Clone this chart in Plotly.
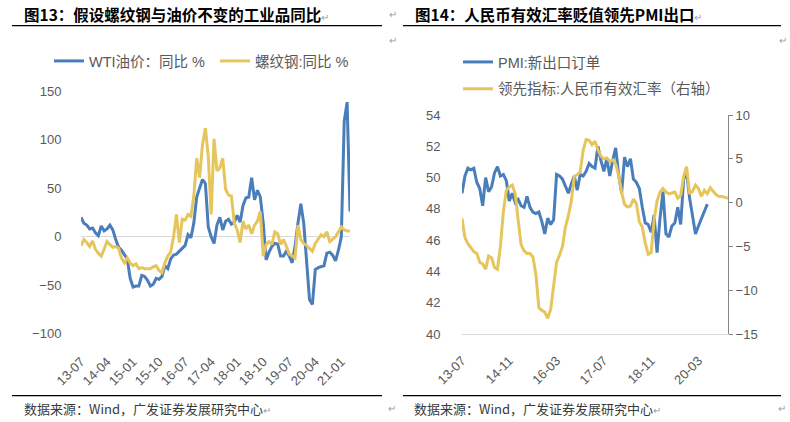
import pandas as pd
import plotly.graph_objects as go

W, H = 790, 422

# ---------------- data: chart 13 (monthly, 2013-07 .. 2021-04) ----------------
months13 = pd.date_range("2013-07-01", "2021-04-01", freq="MS").strftime("%y-%m").tolist()
wti_yoy = [20, 14, 12, 8, 9, 4, 1, 11, 6, 8, 12, 7, -3, -11, -14, -18, -23, -43, -52, -51,
           -51, -40, -41, -45, -51, -49, -43, -44, -41, -30, -33, -23, -19, -18, -15, -13, -9, 2, -1, 14,
           41, 50, 59, 55, 10, 0, -7, 12, 20, 7, 16, 18, 13, 15, 22, 15, 32, 40, 41, 61,
           38, 48, 41, 14, -24, -16, -10, -7, -7.5, -20, -20, -15, -20, -27, -10, 14, 34, 14, -27, -65,
           -70, -34, -32, -31, -30, -17, -16, -19, -25, -14, 0, 119, 139, 26]
rebar_yoy = [-9.5, -3, -6, -10, -4.5, -13, -17, -20, -13, -5, -8, -11, -10, -12, -22, -27, -22, -27, -30, -28,
             -33, -32, -33, -33, -33, -31, -30, -35, -37, -27, -20, -16, 0, 23, -6, 18, 17, 23, 21, 42,
             81, 61, 95, 112, 83, 23, 101, 68, 71, 81, 49, 43, 42, 14, 7, -6, 16, 8, 12, 3,
             12, 16, 26, -20, -8, -5, -8, 5, 3, -8, -3, -10, -18, -20, -22, 12, -3, -7, -9, -12,
             -15, -7, -3, 2, 0, 5, -5, -2, 0, 5, 10, 7, 6, 6]
ticks13 = ["13-07", "14-04", "15-01", "15-10", "16-07", "17-04", "18-01", "18-10", "19-07", "20-04", "21-01"]
yticks13 = [-100, -50, 0, 50, 100, 150]

# ---------------- data: chart 14 (monthly, 2013-07 .. 2021-01) ----------------
months14 = pd.date_range("2013-07-01", "2021-01-01", freq="MS").strftime("%y-%m").tolist()
pmi_export = [49.0, 50.1, 50.6, 50.5, 50.6, 49.7, 49.3, 48.2, 50.0, 49.1, 49.4, 50.3, 50.7, 50.1, 50.2, 49.8,
              48.5, 49.0, 48.4, 48.6, 48.2, 48.1, 48.8, 48.1, 47.8, 47.7, 47.8, 47.2, 46.4, 47.4, 47.0, 47.3,
              50.2, 50.1, 49.9, 49.5, 49.0, 49.6, 50.1, 49.2, 50.2, 50.1, 50.4, 50.9, 50.7, 50.6, 52.0, 51.1,
              50.4, 51.2, 50.1, 51.1, 51.9, 50.2, 49.0, 51.3, 50.7, 51.2, 49.9, 49.7, 49.3, 48.1, 47.1, 47.0,
              46.5, 47.6, 45.2, 47.4, 49.1, 46.4, 46.2, 46.9, 47.1, 48.1, 47.0, 49.9, 50.3, 48.7, 47.5, 46.4,
              46.9, 47.4, 47.9, 48.3]
reer_lead = [-1.8, -4.0, -4.7, -5.2, -5.6, -5.8, -6.8, -7.0, -7.6, -6.1, -6.3, -7.4, -7.6, -5.0, -1.0, 1.4,
             1.8, 2.0, 1.0, -2.0, -4.8, -5.5, -5.8, -5.8, -6.2, -8.2, -12.0, -12.3, -12.5, -13.2, -12.2, -9.5,
             -6.8, -6.0, -5.0, -2.8, -1.5, 0.2, 3.0, 3.2, 3.5, 6.0, 7.2, 7.1, 6.6, 7.0, 6.0, 5.3,
             5.0, 5.1, 4.7, 4.9, 4.4, 3.1, 1.2, -0.2, -0.5, -0.4, 0.4, -0.1, -2.2, -2.8, -4.6, -5.9,
             -5.7, -2.0, 0.2, 1.2, 1.6, 1.2, 1.0, 1.1, 1.2, 0.5, 0.8, 3.0, 4.1, 1.0, 1.3, 2.0,
             1.6, 0.7, 1.4, 1.0, 1.7, 1.3, 0.9, 0.7, 0.7, 0.6, 0.5]
ticks14 = ["13-07", "14-11", "16-03", "17-07", "18-11", "20-03"]
yticks14_left = [40, 42, 44, 46, 48, 50, 52, 54]
yticks14_right = [-15, -10, -5, 0, 5, 10]

BLUE = "#4a7ebb"
GOLD = "#e6c65c"
TICK_FONT = dict(family="Liberation Sans, Arial, sans-serif", size=13, color="#595959")
LEG_FONT = dict(family="Liberation Sans, Noto Sans CJK SC, sans-serif", size=14.5, color="#595959")


def px(x):  # screen pixel -> paper fraction
    return x / W


def py(y):
    return 1 - y / H


fig = go.Figure()
fig.add_trace(go.Scatter(x=months13, y=wti_yoy, name="WTI油价：同比 %", mode="lines",
                         line=dict(color=BLUE, width=3), xaxis="x", yaxis="y", legend="legend"))
fig.add_trace(go.Scatter(x=months13, y=rebar_yoy, name="螺纹钢:同比 %", mode="lines",
                         line=dict(color=GOLD, width=3), xaxis="x", yaxis="y", legend="legend"))
fig.add_trace(go.Scatter(x=months14[:len(pmi_export)], y=pmi_export, name="PMI:新出口订单", mode="lines",
                         line=dict(color=BLUE, width=3), xaxis="x2", yaxis="y2", legend="legend2",
                         legendgroup="a"))
fig.add_trace(go.Scatter(x=months14, y=reer_lead, name="领先指标:人民币有效汇率（右轴）", mode="lines",
                         line=dict(color=GOLD, width=3), xaxis="x2", yaxis="y3", legend="legend2",
                         legendgroup="b"))

shapes = []
for (x0, x1) in [(12, 382), (403, 781)]:
    for yy in [25.7, 395.7]:
        shapes.append(dict(type="line", xref="paper", yref="paper", x0=px(x0), x1=px(x1),
                           y0=py(yy), y1=py(yy), line=dict(color="#000000", width=1.3)))

RET = "<span style='color:#a0a0a0;font-size:10px'>↵</span>"
TITLE_FONT = dict(family="Noto Sans CJK SC, sans-serif", size=15.5, color="#000000")
SRC_FONT = dict(family="Noto Sans CJK SC, Liberation Sans, sans-serif", size=13, color="#3a3a3a")
annotations = [
    dict(text="<b>图13：假设螺纹钢与油价不变的工业品同比</b>" + RET, x=px(22), y=py(14), font=TITLE_FONT),
    dict(text="<b>图14：人民币有效汇率贬值领先PMI出口</b>" + RET, x=px(413), y=py(14), font=TITLE_FONT),
    dict(text="数据来源：Wind，广发证券发展研究中心" + RET, x=px(22), y=py(408), font=SRC_FONT),
    dict(text="数据来源：Wind，广发证券发展研究中心" + RET, x=px(412), y=py(408), font=SRC_FONT),
]
for a in annotations:
    a.update(xanchor="left")
for (mx, my) in [(393, 14), (393, 40), (783, 40), (392, 408), (782, 408)]:
    annotations.append(dict(text="↵", x=px(mx), y=py(my), xanchor="center",
                            font=dict(size=10, color="#a0a0a0")))
for a in annotations:
    a.update(xref="paper", yref="paper", yanchor="middle", showarrow=False)

fig.update_layout(
    width=W, height=H, margin=dict(l=0, r=0, t=0, b=0, autoexpand=False),
    paper_bgcolor="white", plot_bgcolor="white",
    shapes=shapes, annotations=annotations,
    xaxis=dict(domain=[px(81), px(350)], type="category", categoryorder="array", categoryarray=months13,
               range=[0, len(months13) - 1], tickvals=ticks13, ticktext=ticks13, tickangle=-45,
               tickfont=TICK_FONT, showgrid=False, showline=False, zeroline=False, automargin=False,
               ticks="outside", ticklen=14, tickcolor="rgba(0,0,0,0)", anchor="y"),
    yaxis=dict(domain=[py(334), py(91)], range=[-100.5, 150.5], tickvals=yticks13, tickfont=TICK_FONT,
               showgrid=False, zeroline=True, zerolinecolor="#d9d9d9", zerolinewidth=1, automargin=False,
               showline=False, ticks="outside", ticklen=16, tickcolor="rgba(0,0,0,0)", anchor="x"),
    xaxis2=dict(domain=[px(462), px(728)], type="category", categoryorder="array", categoryarray=months14,
                range=[0, len(months14) - 1], tickvals=ticks14, ticktext=ticks14, tickangle=-45,
                tickfont=TICK_FONT, showgrid=False, showline=True, linecolor="#d9d9d9", linewidth=1,
                zeroline=False, automargin=False, ticks="outside", ticklen=13,
                tickcolor="rgba(0,0,0,0)", anchor="y2"),
    yaxis2=dict(domain=[py(334), py(115)], range=[40, 54], tickvals=yticks14_left, tickfont=TICK_FONT,
                showgrid=False, zeroline=False, showline=False, ticks="outside", ticklen=18,
                automargin=False, tickcolor="rgba(0,0,0,0)", anchor="x2"),
    yaxis3=dict(overlaying="y2", side="right", anchor="x2", range=[-15, 10], tickvals=yticks14_right,
                tickfont=TICK_FONT, showgrid=False, zeroline=False, showline=True, linecolor="#868686",
                linewidth=1, automargin=False, ticks="outside", ticklen=4, tickcolor="#868686"),
    legend=dict(orientation="h", x=px(49), y=py(45), xanchor="left", yanchor="top", font=LEG_FONT,
                entrywidth=121, entrywidthmode="pixels", bgcolor="rgba(0,0,0,0)", itemwidth=30),
    legend2=dict(orientation="v", x=px(458), y=py(46), xanchor="left", yanchor="top", font=LEG_FONT,
                 tracegroupgap=5, bgcolor="rgba(0,0,0,0)", itemwidth=30),
)

# drop the browser's default 8px body margin so the 790x422 figure fills the window
fig.write_html("out.html", config={"displayModeBar": False},
               post_script="document.body.style.margin='0px';")
